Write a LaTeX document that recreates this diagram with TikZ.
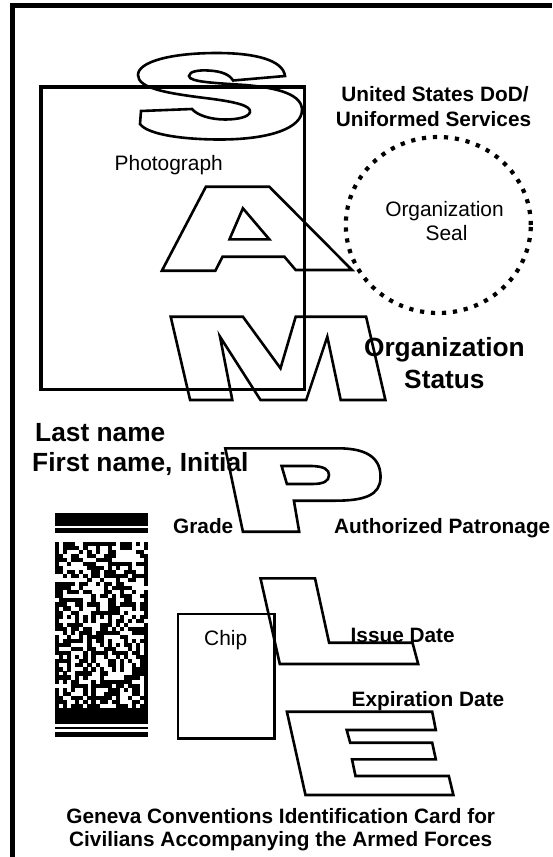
\documentclass[tikz,border=0pt]{standalone}
\usepackage{fontspec}
\setmainfont{Liberation Sans}
\usetikzlibrary{shapes.geometric}
\tikzset{
  letter/.style={draw, line width=2.6pt, line join=miter},
  boxline/.style={draw, line width=3.6pt, inner sep=0pt},
  chipline/.style={draw, line width=2.4pt, inner sep=0pt},
  tB/.style={inner sep=0pt, font={\fontsize{20.8}{24}\selectfont\bfseries}},
  tBL/.style={inner sep=0pt, font={\fontsize{26.3}{30}\selectfont\bfseries}},
  tR/.style={inner sep=0pt, font={\fontsize{20.9}{24}\selectfont}},
  dotring/.style={ellipse, draw, line width=4.2pt, dash pattern=on 4.2pt off 6.8pt, inner sep=0pt}
}
\begin{document}
\begin{tikzpicture}[x=1pt,y=-1pt]
\useasboundingbox (0,0) rectangle (552,857);
\fill[white] (0,0) rectangle (552,857);
% frame (top and left edges)
\draw[line width=5pt, line join=miter] (12.5,857) -- (12.5,5.5) -- (552,5.5);

% photograph box
\node[boxline, minimum width=263.7pt, minimum height=302.6pt] (photobox) at (172.65,238) {};
\node[tR, anchor=base west] (photo) at (114.5,170) {Photograph};

% S
\draw[letter] (285,76)
  .. controls (283,60) and (255,53) .. (217,53)
  .. controls (170,53) and (138,62) .. (138,75)
  .. controls (138,88) and (165,93) .. (205,98)
  .. controls (238,102) and (251,106) .. (250,112)
  .. controls (249,117) and (238,119.5) .. (225,119.5)
  .. controls (210,119.5) and (197,115) .. (192,109)
  -- (141,111) -- (140,124)
  .. controls (148,135) and (185,139.5) .. (220,139.5)
  .. controls (270,139.5) and (302,128) .. (302,110)
  .. controls (302,95) and (280,88) .. (245,85)
  .. controls (215,83) and (189,82) .. (189,76)
  .. controls (189,71) and (200,70) .. (208,70.5)
  .. controls (222,71) and (230,75) .. (233,80.5)
  -- cycle;

% A
\draw[letter] (161.9,270.7) -- (205.9,186.7) -- (269.3,186.7) -- (352,270)
  -- (295.7,270) -- (284.4,256.7) -- (222.5,256.7) -- (215.4,270.7) -- cycle;
\draw[letter] (242.9,208.3) -- (269.3,239.3) -- (229.5,239.3) -- cycle;

% M
\draw[letter] (170.7,316.7) -- (242.9,316.7) -- (280.5,368.3) -- (295.7,316.7)
  -- (366.1,316.7) -- (385.4,400) -- (340.7,400) -- (327.3,336.7) -- (306.2,400)
  -- (260.5,400) -- (220,336.7) -- (232.3,400) -- (190.1,400) -- cycle;

% P
\draw[letter] (225.3,448.3) -- (337.9,448.3)
  .. controls (370,448.3) and (381,460) .. (380.5,478)
  .. controls (380,495) and (365,500.7) .. (335,500.7)
  -- (293.9,500.7) -- (299.2,531.7) -- (242.9,531.7) -- cycle;
\draw[letter] (281.6,466) -- (310,466)
  .. controls (325,466) and (329,470) .. (329,475)
  .. controls (329,481) and (324,484) .. (312,484)
  -- (286.9,484) -- cycle;

% L
\draw[letter] (260.5,578.3) -- (315,578.3) -- (329.1,642.7) -- (412.5,642.7)
  -- (418.2,664) -- (279.8,664) -- cycle;

% E
\draw[letter] (286.9,711.7) -- (432.2,711.7) -- (435.8,730) -- (346.7,730)
  -- (350.2,742.7) -- (432.2,742.7) -- (435.8,759.3) -- (352,759.3)
  -- (355.5,776) -- (448.8,776) -- (453.4,795) -- (305.5,795) -- cycle;

% header text
\node[tB, anchor=base] (dod1) at (435,101.7) {United States DoD/};
\node[tB, anchor=base] (dod2) at (433.5,126.7) {Uniformed Services};

% seal
\node[dotring, minimum width=185pt, minimum height=176pt] (seal) at (438.3,225) {};
\node[tR, anchor=base] (seal1) at (444.5,216) {Organization};
\node[tR, anchor=base] (seal2) at (446.5,240) {Seal};

% organization status
\node[tBL, anchor=base] (stat1) at (444.4,356) {Organization};
\node[tBL, anchor=base] (stat2) at (444.4,388.3) {Status};

% name
\node[tBL, anchor=base west] (last) at (35,441.7) {Last name};
\node[tBL, anchor=base west] (first) at (32,471.7) {First name, Initial};

% grade / patronage
\node[tB, anchor=base west] (grade) at (173,533.3) {Grade};
\node[tB, anchor=base west] (auth) at (334,533.3) {Authorized Patronage};

% barcode
\fill (55,513.3) rectangle (148.3,525.7);
\fill (55,528.3) rectangle (148.3,533.3);
\pgfmathsetseed{4242}
\foreach \r in {0,...,40}{
  \foreach \c in {0,...,22}{
    \pgfmathsetmacro{\th}{ifthenelse(or(\c==0,\c==22),0.85,0.5)}
    \pgfmathsetmacro{\v}{rnd}
    \ifdim \v pt < \th pt
      \fill (55+\c*4.055,541.5+\r*4.06) rectangle ++(4.15,4.15);
    \fi
  }
}
\fill (55,708) rectangle (148.3,723.5);
\fill (55,726.5) rectangle (148.3,729);
\fill (55,732) rectangle (148.3,736.5);

% chip
\node[chipline, minimum width=96.8pt, minimum height=124.3pt] (chipbox) at (226.2,676.15) {};
\node[tR, anchor=base west] (chip) at (204,645) {Chip};

% dates
\node[tB, anchor=base west] (issue) at (350.5,642.7) {Issue Date};
\node[tB, anchor=base west] (exp) at (351.5,706.7) {Expiration Date};

% footer
\node[tB, anchor=base] (foot1) at (280.7,823.3) {Geneva Conventions Identification Card for};
\node[tB, anchor=base] (foot2) at (280.7,846.7) {Civilians Accompanying the Armed Forces};
\end{tikzpicture}
\end{document}
